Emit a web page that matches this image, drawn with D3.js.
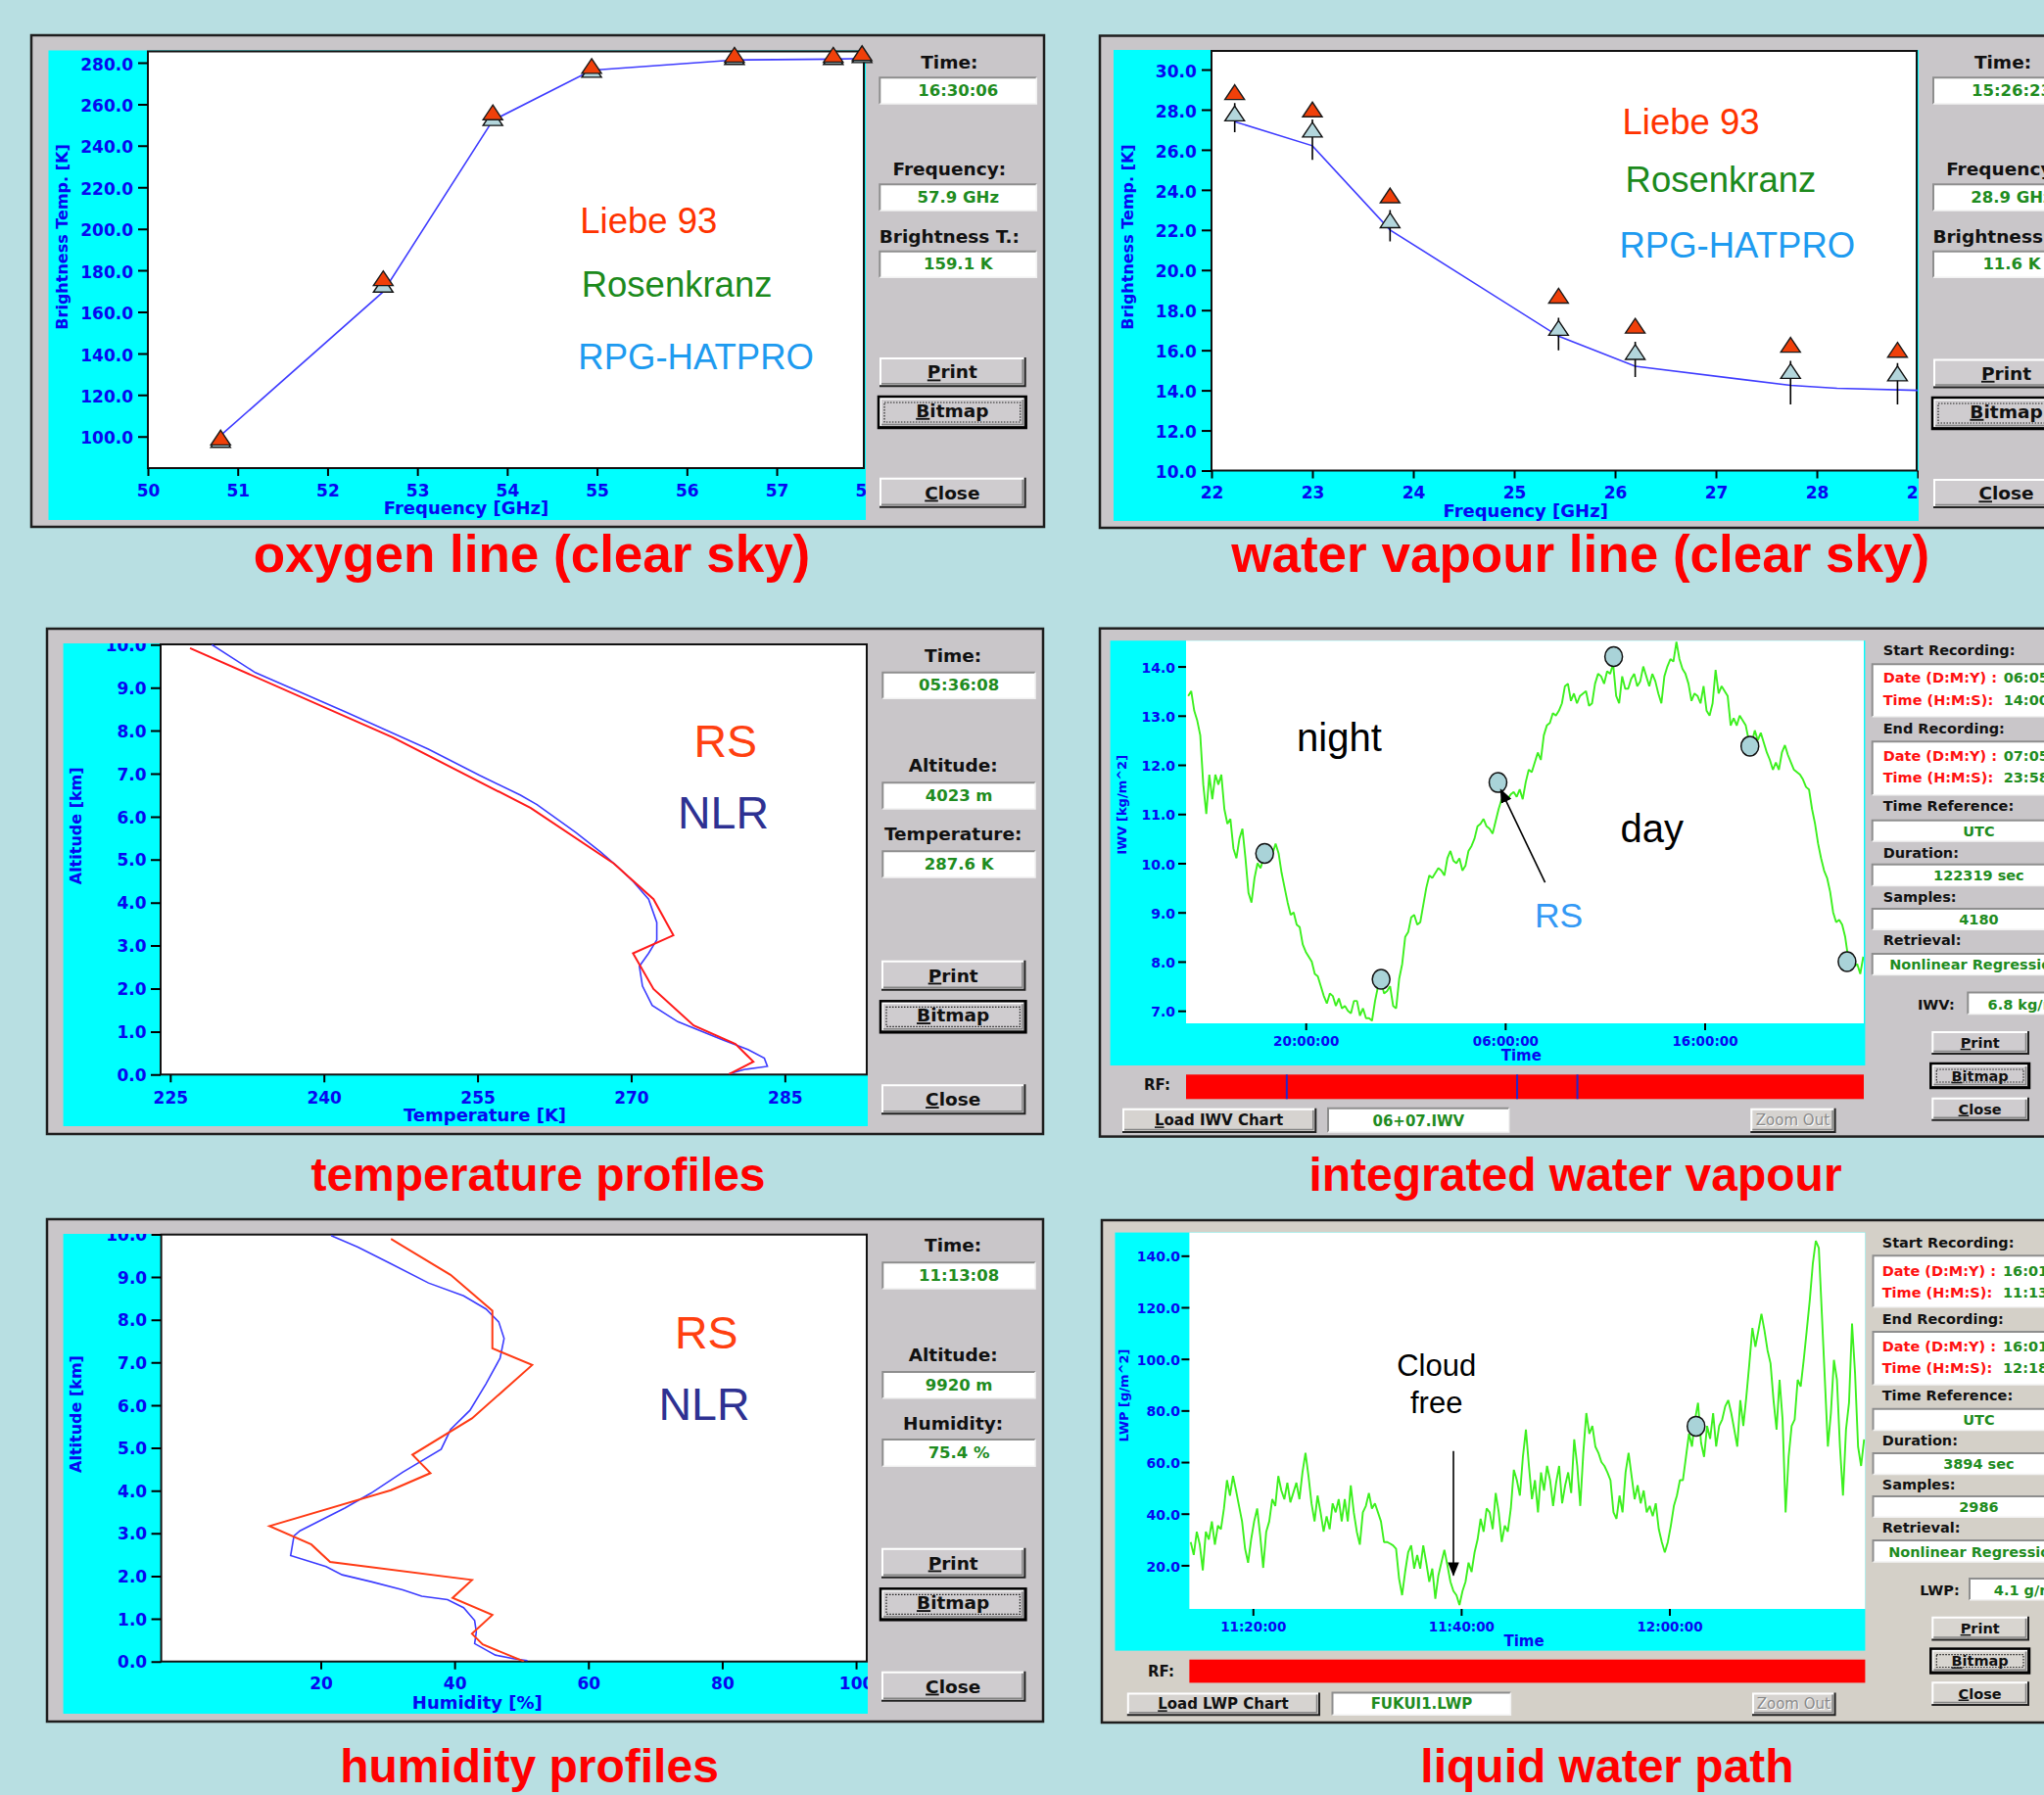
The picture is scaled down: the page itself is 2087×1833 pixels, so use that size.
<!DOCTYPE html>
<html>
<head>
<meta charset="utf-8">
<script src="https://cdn.jsdelivr.net/npm/d3@7"></script>
<style>
  body { margin: 0; background: #b8dfe2; }
  svg { display: block; }
</style>
</head>
<body>
<svg id="chart" width="2087" height="1833"></svg>
<script>
// ---------------- data ----------------

// oxygen line (clear sky), brightness temperature [K] vs frequency [GHz]
const o2Freq   = [50.81, 52.62, 53.84, 54.94, 56.53, 57.63, 57.95];
const o2Liebe  = [98.3, 175.0, 254.9, 277.2, 282.6, 282.6, 283.4];
const o2Rosen  = [97.2, 171.9, 252.1, 275.3, 281.5, 281.5, 282.4];
const o2Hatpro = [100.5, 169.7, 252.2, 276.3, 281.3, 281.7, 282.0];
const o2Readout = ['16:30:06', '57.9 GHz', '159.1 K'];

// water vapour line (clear sky)
const wvFreq     = [22.23, 23.0, 23.77, 25.44, 26.2, 27.74, 28.8];
const wvLiebe    = [28.75, 27.89, 23.6, 18.6, 17.1, 16.15, 15.9];
const wvRosen    = [27.69, 26.88, 22.36, 16.99, 15.79, 14.84, 14.72];
const wvStem     = [26.88, 25.5, 21.43, 16.0, 14.66, 13.3, 13.3];
const wvLineFreq = [22.23, 23.0, 23.77, 25.44, 26.2, 27.74, 28.2, 29.0];
const wvHatpro   = [27.4, 26.2, 22.0, 16.7, 15.2, 14.25, 14.1, 14.0];
const wvReadout  = ['15:26:23', '28.9 GHz', '11.6 K'];
const specLabels = ['Time:', 'Frequency:', 'Brightness T.:'];
const modelNames = ['Liebe 93', 'Rosenkranz', 'RPG-HATPRO'];

// temperature profiles, altitude [km]
const tAltRS = [0.01, 0.30, 0.71, 1.14, 1.99, 2.82, 3.24, 4.08, 4.91, 6.2, 7.84, 9.92];
const tRS    = [279.56, 281.93, 280.18, 276.1, 272.18, 270.18, 274.12, 272.18, 268.3, 260.2, 246.75, 226.93];
const tAltNLR = [0.02, 0.12, 0.19, 0.38, 0.58, 0.81, 1.23, 1.61, 2.06, 2.52, 2.82, 3.13, 3.54,
                 4.08, 4.49, 4.83, 5.18, 5.63, 6.28, 6.5, 6.96, 7.57, 8.44, 9.35, 10.0];
const tNLR    = [279.56, 281.1, 283.3, 283.0, 281.4, 278.9, 274.55, 272.05, 271.1, 270.8, 271.7, 272.5, 272.5,
                 271.7, 270.2, 268.7, 267.0, 264.6, 260.8, 259.2, 255.2, 250.2, 242.06, 233.3, 229.06];
const tReadout = ['05:36:08', '4023 m', '287.6 K'];

// humidity profiles
const hAltRS = [0, 0.40, 0.65, 1.09, 1.49, 1.91, 2.33, 2.74, 3.17, 4.01, 4.41, 4.84, 5.69, 6.94, 7.33, 8.21, 9.05, 9.89];
const hRS    = [50.4, 44.2, 42.6, 45.65, 39.7, 42.6, 21.4, 18.6, 12.35, 30.5, 36.4, 33.7, 42.6, 51.6, 45.65, 45.65, 39.4, 30.5];
const hAltNLR = [0.02, 0.06, 0.15, 0.27, 0.42, 0.69, 0.96, 1.26, 1.45, 1.53, 1.68, 1.87, 2.03, 2.22, 2.48, 2.94, 3.06,
                 3.59, 3.94, 4.43, 4.97, 5.43, 5.88, 6.5, 7.1, 7.56, 7.95, 8.25, 8.56, 8.86, 9.32, 9.7, 9.97];
const hNLR    = [50.9, 49.0, 46.1, 44.7, 43.0, 43.25, 43.0, 41.35, 38.95, 35.1, 32.25, 27.5, 23.2, 20.8, 15.5, 16.0, 16.9,
                 23.6, 27.5, 32.25, 38.0, 39.4, 42.3, 44.7, 46.8, 47.4, 46.6, 44.7, 41.35, 36.1, 30.35, 25.55, 21.55];
const hReadout = ['11:13:08', '9920 m', '75.4 %'];

// integrated water vapour [kg/m^2], samples every 0.1511 h from 0.108 h after 14:00 (06.05)
const iwvStart = 0.108, iwvStep = 0.1511;
const iwvValues = [
  13.4, 13.5, 13.1, 12.9, 12.6, 11.6, 11.0, 11.8, 11.3, 11.8,
  11.6, 11.8, 11.1, 10.8, 10.9, 10.3, 10.1, 10.5, 10.7, 10.1,
  9.4, 9.2, 9.7, 10.0, 9.9, 10.1, 10.2, 10.1, 10.2, 10.4,
  10.2, 9.8, 9.5, 9.2, 8.95, 9.0, 8.75, 8.7, 8.35, 8.2,
  8.1, 8.0, 7.75, 7.7, 7.5, 7.3, 7.15, 7.35, 7.3, 7.1,
  7.25, 7.05, 7.1, 7.0, 6.95, 7.2, 7.2, 6.9, 7.05, 6.85,
  6.85, 6.8, 7.2, 7.5, 7.6, 7.35, 7.4, 7.5, 7.1, 7.05,
  7.65, 7.95, 8.5, 8.6, 8.9, 8.95, 8.75, 8.8, 9.15, 9.5,
  9.75, 9.7, 9.8, 9.9, 9.85, 9.75, 10.1, 10.25, 10.05, 10.0,
  10.1, 9.85, 9.95, 10.25, 10.35, 10.5, 10.75, 10.8, 10.9, 10.75,
  10.7, 10.6, 10.85, 11.1, 11.3, 11.35, 11.3, 11.4, 11.45, 11.35,
  11.5, 11.3, 11.65, 11.9, 11.85, 12.05, 12.25, 12.1, 12.6, 12.8,
  12.85, 13.05, 13.0, 13.1, 13.25, 13.6, 13.65, 13.3, 13.45, 13.25,
  13.4, 13.45, 13.5, 13.2, 13.25, 13.65, 13.85, 13.8, 13.65, 13.9,
  13.85, 14.05, 13.4, 13.25, 13.8, 13.55, 13.55, 13.75, 13.85, 13.6,
  13.7, 14.0, 13.8, 13.6, 13.85, 13.7, 13.45, 13.25, 13.8, 14.0,
  14.15, 14.1, 14.5, 14.15, 13.95, 13.85, 13.65, 13.3, 13.45, 13.4,
  13.25, 13.6, 13.1, 13.0, 13.25, 13.93, 13.45, 13.6, 13.5, 13.4,
  12.8, 12.95, 12.8, 13.0, 12.9, 12.8, 12.5, 12.45, 12.7, 12.5,
  12.65, 12.45, 12.25, 12.1, 11.9, 12.05, 11.9, 12.25, 12.4, 12.2,
  12.05, 11.9, 11.85, 11.8, 11.7, 11.55, 11.5, 11.1, 10.8, 10.4,
  10.1, 9.85, 9.7, 9.42, 9.0, 8.8, 8.85, 8.75, 8.5, 8.07,
  8.0, 7.9, 7.95, 7.75, 8.1
];
const iwvRsHours  = [3.94, 9.78, 15.64, 21.44, 28.27, 33.14];
const iwvRsValues = [10.2, 7.64, 11.64, 14.2, 12.38, 8.0];
const iwvRfMarks  = [5.05, 16.6, 19.62];
const iwvTicks    = [6, 16, 26];
const iwvTickText = ['20:00:00', '06:00:00', '16:00:00'];

// liquid water path [g/m^2], samples every 0.29 min from 11:14:02
const lwpStart = 14.03, lwpStep = 0.29;
const lwpValues = [
  29, 24, 33, 28, 18, 33, 30, 37, 28, 35.4,
  34, 42, 53, 47, 54.6, 49, 43, 37, 26.4, 21,
  30, 37, 42, 31.5, 19, 33, 37, 45.6, 43, 54.6,
  49, 45.6, 52, 44.4, 48.2, 52, 45.6, 56, 63.6, 54.6,
  44, 37, 47, 40.5, 33, 39, 34, 44, 40.5, 45.6,
  37, 45.6, 37, 51, 40.5, 33, 28, 40.5, 43, 48,
  42, 44, 40.5, 37, 29, 29, 28.4, 27.7, 26.4, 14.8,
  8.4, 17.4, 25, 27.7, 18.7, 24, 18.7, 27.7, 21, 13.6,
  18.7, 7, 16, 21, 26, 20, 13.6, 10, 8.4, 4.6,
  10, 13.6, 21, 17.4, 25, 30, 38, 33, 42, 40.5,
  34, 48, 40.5, 29, 35.4, 33, 42, 57, 53, 47,
  62, 72.6, 58.5, 45.6, 53, 40.5, 56, 49, 58.5, 53,
  43, 52, 58.5, 44, 51, 56, 48, 68.8, 58.5, 43,
  63.6, 79, 71, 74, 66, 63.6, 60, 58.5, 56, 53,
  40.5, 38, 47, 40.5, 56, 63.6, 54.6, 45.6, 51, 44,
  49, 40.5, 43, 39, 44, 34, 29, 25, 29, 35.4,
  43, 47, 53, 53, 62, 71, 66, 76.5, 83, 67.5,
  62, 74, 69, 79, 66, 74, 76.5, 81.6, 84, 79,
  72.6, 66, 84, 74, 85.4, 98.3, 112, 104.7, 111, 117.5,
  111, 103.4, 98.3, 84, 72.6, 91.9, 76.5, 40.5, 62, 74,
  76.5, 91.9, 89.3, 99.6, 111, 122.7, 136.8, 145.8, 143, 117.5,
  91.9, 66, 79, 99.6, 91.9, 66, 47, 72.6, 83, 113.7,
  94.4, 66, 58.5, 68.8
];
const lwpRsMinutes = [62.56];
const lwpRsValues  = [73.9];
const lwpTicks     = [20, 40, 60];
const lwpTickText  = ['11:20:00', '11:40:00', '12:00:00'];

const titles = ['oxygen line (clear sky)', 'water vapour line (clear sky)', 'temperature profiles',
                'integrated water vapour', 'humidity profiles', 'liquid water path'];

// ---------------- drawing helpers ----------------
const svg = d3.select('#chart');
const UI = "'DejaVu Sans', Verdana, sans-serif";
const ARIAL = "'Liberation Sans', Arial, Helvetica, sans-serif";
const AXIS_BLUE = '#0808f0';
const VAL_GREEN = '#1f8c1f';
let clipN = 0;

function clip(x0, y0, x1, y1) {
  const id = 'clip' + (clipN++);
  svg.append('clipPath').attr('id', id).append('rect')
    .attr('x', x0).attr('y', y0).attr('width', x1 - x0).attr('height', y1 - y0);
  return `url(#${id})`;
}

function box(x0, y0, x1, y1, fill, parent = svg) {
  return parent.append('rect').attr('x', x0).attr('y', y0)
    .attr('width', x1 - x0).attr('height', y1 - y0).attr('fill', fill);
}

function text(x, y, str, size, opt = {}) {
  return (opt.parent || svg).append('text').attr('x', x).attr('y', y).text(str)
    .attr('font-family', opt.font || UI).attr('font-size', size)
    .attr('font-weight', opt.weight || 'bold')
    .attr('fill', opt.color || '#111')
    .attr('text-anchor', opt.anchor || 'start');
}

function windowFrame(x0, y0, x1, y1, face) {
  box(x0, y0, x1, y1, face).attr('stroke', '#1e1e1e').attr('stroke-width', 2.5);
}

function field(x0, y0, x1, y1) {
  box(x0, y0, x1, y1, '#fff');
  svg.append('path').attr('d', `M${x0},${y1} V${y0} H${x1}`)
    .attr('fill', 'none').attr('stroke', '#8e8e8e').attr('stroke-width', 2);
  svg.append('path').attr('d', `M${x0},${y1} H${x1} V${y0}`)
    .attr('fill', 'none').attr('stroke', '#f2f2f2').attr('stroke-width', 1.5);
}

function button(x0, y0, x1, y1, label, size, opt = {}) {
  const g = svg.append('g');
  box(x0, y0, x1, y1, opt.face || '#cfcccf', g);
  g.append('path').attr('d', `M${x0 + 1},${y1 - 1} V${y0 + 1} H${x1 - 1}`)
    .attr('fill', 'none').attr('stroke', '#fff').attr('stroke-width', 2);
  g.append('path').attr('d', `M${x0 + 2},${y1 - 2.5} H${x1 - 2.5} V${y0 + 2}`)
    .attr('fill', 'none').attr('stroke', '#858585').attr('stroke-width', 1.5);
  g.append('path').attr('d', `M${x0},${y1} H${x1} V${y0}`)
    .attr('fill', 'none').attr('stroke', '#222').attr('stroke-width', 2);
  const cx = (x0 + x1) / 2, by = (y0 + y1) / 2 + size * 0.37 - (opt.lift || 0);
  if (opt.disabled) {
    text(cx + 1, by + 1, label, size, { parent: g, anchor: 'middle', color: '#fff', weight: 'normal' });
    text(cx, by, label, size, { parent: g, anchor: 'middle', color: '#8a8a8a', weight: 'normal' });
    return;
  }
  const t = g.append('text').attr('x', cx).attr('y', by).attr('text-anchor', 'middle')
    .attr('font-family', UI).attr('font-size', size).attr('font-weight', 'bold').attr('fill', '#111');
  t.append('tspan').attr('text-decoration', 'underline').text(label[0]);
  t.append('tspan').text(label.slice(1));
  if (opt.focus) {
    g.append('rect').attr('x', x0 - 1).attr('y', y0 - 1).attr('width', x1 - x0 + 2).attr('height', y1 - y0 + 2)
      .attr('fill', 'none').attr('stroke', '#000').attr('stroke-width', 2.5);
    g.append('rect').attr('x', x0 + 5).attr('y', y0 + 5).attr('width', x1 - x0 - 10).attr('height', y1 - y0 - 10)
      .attr('fill', 'none').attr('stroke', '#222').attr('stroke-width', 1.2).attr('stroke-dasharray', '1.5,1.5');
  }
}

function styleAxis(g, size) {
  g.select('.domain').remove();
  g.selectAll('line').attr('stroke', '#000').attr('stroke-width', 2);
  g.selectAll('text').attr('fill', AXIS_BLUE).attr('font-family', UI)
    .attr('font-weight', 'bold').attr('font-size', size);
}

function yTitle(cx, cy, str, size) {
  const bx = cx + size * 0.36;
  text(bx, cy, str, size, { anchor: 'middle', color: AXIS_BLUE })
    .attr('transform', `rotate(-90,${bx},${cy})`);
}

// triangle marker, size = width
const triangle = {
  draw(ctx, w) {
    const h = w * 0.75;
    ctx.moveTo(0, -h * 2 / 3);
    ctx.lineTo(w / 2, h / 3);
    ctx.lineTo(-w / 2, h / 3);
    ctx.closePath();
  }
};

// ---------------- spectrum windows ----------------
function spectrumPanel(p) {
  windowFrame(...p.frame, '#c9c6c9');
  box(...p.cyan, '#00ffff');
  const [px0, py0, px1, py1] = p.plot;
  const x = d3.scaleLinear().domain(p.xDomain).range([px0, px1]);
  const y = d3.scaleLinear().domain(p.yDomain).range([py1, py0]);
  box(px0, py0, px1, py1, '#fff').attr('stroke', '#111').attr('stroke-width', 2);

  const layer = svg.append('g').attr('clip-path', clip(...p.cyan));
  const ya = layer.append('g').attr('transform', `translate(${px0},0)`)
    .call(d3.axisLeft(y).tickValues(p.yTicks).tickFormat(d3.format('.1f')).tickSize(10));
  styleAxis(ya, 17);
  ya.selectAll('text').attr('x', -p.yLabelGap).attr('dy', '0.42em');
  const xa = layer.append('g').attr('transform', `translate(0,${py1})`)
    .call(d3.axisBottom(x).tickValues(p.xTicks).tickFormat(d3.format('d')).tickSize(8));
  styleAxis(xa, 17);
  xa.selectAll('text').attr('y', p.xLabelGap).attr('dy', null);
  text(p.xTitle[0], p.xTitle[1], 'Frequency [GHz]', 18, { anchor: 'middle', color: AXIS_BLUE });
  yTitle(p.yTitle[0], p.yTitle[1], 'Brightness Temp. [K]', 16);

  const plot = svg.append('g').attr('clip-path', clip(px0 - 12, py0 - 14, px1 + 12, py1));
  plot.append('path')
    .attr('d', d3.line().x((d, i) => x(p.lineFreq[i])).y(d => y(d))(p.hatpro))
    .attr('fill', 'none').attr('stroke', '#3f3cff').attr('stroke-width', 1.6);
  if (p.stem) {
    plot.selectAll(null).data(p.stem).join('line')
      .attr('x1', (d, i) => x(p.freq[i])).attr('x2', (d, i) => x(p.freq[i]))
      .attr('y1', (d, i) => y(p.rosen[i]) - 13).attr('y2', d => y(d))
      .attr('stroke', '#000').attr('stroke-width', 1.6);
  }
  const sym = d3.symbol().type(triangle).size(20);
  plot.selectAll(null).data(p.rosen).join('path')
    .attr('transform', (d, i) => `translate(${x(p.freq[i])},${y(d)})`)
    .attr('d', sym).attr('fill', '#b3d6dc').attr('stroke', '#111').attr('stroke-width', 1.4);
  plot.selectAll(null).data(p.liebe).join('path')
    .attr('transform', (d, i) => `translate(${x(p.freq[i])},${y(d)})`)
    .attr('d', sym).attr('fill', '#f0400a').attr('stroke', '#1a1a1a').attr('stroke-width', 1.4);

  const colors = ['#ff3300', '#1c8a1c', '#1e9bf0'];
  modelNames.forEach((name, i) => {
    text(p.legend[i][0], p.legend[i][1], name, 36.5, { font: ARIAL, weight: 'normal', color: colors[i] });
  });

  // readout column
  const [bx0, bx1] = p.boxX;
  const bc = (bx0 + bx1) / 2;
  specLabels.forEach((lab, i) => {
    text(bc - 9, p.rows[i][0], lab, 18.5, { anchor: 'middle' });
    field(bx0, p.rows[i][1], bx1, p.rows[i][2]);
    text(bc, p.rows[i][2] - 8.5, p.readout[i], 16.5, { anchor: 'middle', color: VAL_GREEN });
  });
  button(p.btnX[0], p.btns[0][0], p.btnX[1], p.btns[0][1], 'Print', 18.5);
  button(p.btnX[0], p.btns[1][0], p.btnX[1], p.btns[1][1], 'Bitmap', 18.5, { focus: true, lift: 2 });
  button(p.btnX[0], p.btns[2][0], p.btnX[1], p.btns[2][1], 'Close', 18.5);
}

spectrumPanel({
  frame: [32, 36, 1066, 538], cyan: [49.5, 51.5, 884, 531], plot: [151, 52.5, 882, 478],
  xDomain: [50, 57.97], yDomain: [84.8, 285.4],
  xTicks: d3.range(50, 59), yTicks: d3.range(100, 281, 20),
  yLabelGap: 15, xLabelGap: 28.7, xTitle: [476, 525], yTitle: [63, 242],
  freq: o2Freq, liebe: o2Liebe, rosen: o2Rosen, lineFreq: o2Freq, hatpro: o2Hatpro,
  legend: [[592.3, 237.7], [593.7, 302.7], [590.3, 376.7]],
  readout: o2Readout, boxX: [898.3, 1058.3],
  rows: [[70, 79.3, 106], [179.3, 188.3, 215], [247.7, 256.7, 283.3]],
  btnX: [898, 1046.7], btns: [[365, 394.3], [406, 436], [487.7, 517.7]]
});

spectrumPanel({
  frame: [1123, 36.5, 2120, 539], cyan: [1137, 51, 1959, 532], plot: [1237, 52, 1957, 480.5],
  xDomain: [22, 28.99], yDomain: [10, 30.93],
  xTicks: d3.range(22, 30), yTicks: d3.range(10, 30.1, 2),
  yLabelGap: 15.2, xLabelGap: 28.3, xTitle: [1557.7, 527.7], yTitle: [1150.8, 242],
  freq: wvFreq, liebe: wvLiebe, rosen: wvRosen, stem: wvStem, lineFreq: wvLineFreq, hatpro: wvHatpro,
  legend: [[1656.5, 136.7], [1659.6, 195.7], [1653.5, 263.3]],
  readout: wvReadout, boxX: [1974, 2134],
  rows: [[70, 79.3, 106], [179.3, 188.3, 215], [247.7, 256.7, 283.3]],
  btnX: [1974, 2123], btns: [[366.5, 395.5], [407, 437], [489, 518]]
});

// ---------------- profile windows ----------------
function profilePanel(p) {
  windowFrame(...p.frame, '#c9c6c9');
  box(...p.cyan, '#00ffff');
  const [px0, py0, px1, py1] = p.plot;
  const x = d3.scaleLinear().domain(p.xDomain).range([px0, px1]);
  const y = d3.scaleLinear().domain([0, 10]).range([py1, p.yTop]);
  box(px0, py0, px1, py1, '#fff').attr('stroke', '#111').attr('stroke-width', 2);

  const layer = svg.append('g').attr('clip-path', clip(...p.cyan));
  const ya = layer.append('g').attr('transform', `translate(${px0},0)`)
    .call(d3.axisLeft(y).tickValues(d3.range(0, 10.1, 1)).tickFormat(d3.format('.1f')).tickSize(10));
  styleAxis(ya, 17);
  ya.selectAll('text').attr('x', -14.4).attr('dy', '0.36em');
  const xa = layer.append('g').attr('transform', `translate(0,${py1})`)
    .call(d3.axisBottom(x).tickValues(p.xTicks).tickFormat(d3.format('d')).tickSize(8));
  styleAxis(xa, 17);
  xa.selectAll('text').attr('y', p.xLabelGap).attr('dy', null);
  text(p.xTitle[0], p.xTitle[1], p.xName, 18, { anchor: 'middle', color: AXIS_BLUE });
  yTitle(p.yTitle[0], p.yTitle[1], 'Altitude [km]', 16);

  const plot = svg.append('g').attr('clip-path', clip(px0, py0, px1, py1));
  plot.append('path')
    .attr('d', d3.line().x(d => x(d)).y((d, i) => y(p.altNLR[i]))(p.nlr))
    .attr('fill', 'none').attr('stroke', '#3c3cff').attr('stroke-width', 1.6);
  plot.append('path')
    .attr('d', d3.line().x(d => x(d)).y((d, i) => y(p.altRS[i]))(p.rs))
    .attr('fill', 'none').attr('stroke', p.rsColor).attr('stroke-width', 2);

  text(p.legend[0][0], p.legend[0][1], 'RS', 46.5, { font: ARIAL, weight: 'normal', color: '#ff4010' });
  text(p.legend[1][0], p.legend[1][1], 'NLR', 46.5, { font: ARIAL, weight: 'normal', color: '#2e3192' });

  const [bx0, bx1] = p.boxX;
  const bc = (bx0 + bx1) / 2;
  p.labels.forEach((lab, i) => {
    text(bc - 6, p.rows[i][0], lab, 18.5, { anchor: 'middle' });
    field(bx0, p.rows[i][1], bx1, p.rows[i][2]);
    text(bc, p.rows[i][2] - 8, p.readout[i], 16.5, { anchor: 'middle', color: VAL_GREEN });
  });
  button(900, p.btns[0][0], 1046.4, p.btns[0][1], 'Print', 18.5);
  button(900, p.btns[1][0], 1046.4, p.btns[1][1], 'Bitmap', 18.5, { focus: true, lift: 2 });
  button(900, p.btns[2][0], 1046.4, p.btns[2][1], 'Close', 18.5);
}

profilePanel({
  frame: [48, 642, 1065, 1158], cyan: [64.6, 657, 886, 1150], plot: [164, 658, 885, 1097.3], yTop: 658.3,
  xDomain: [224.06, 293], xTicks: [225, 240, 255, 270, 285], xLabelGap: 29.4,
  xName: 'Temperature [K]', xTitle: [495, 1145], yTitle: [77.7, 843.3],
  altRS: tAltRS, rs: tRS, altNLR: tAltNLR, nlr: tNLR, rsColor: '#ff1a1a',
  legend: [[708.5, 772.7], [692, 846]],
  labels: ['Time:', 'Altitude:', 'Temperature:'], readout: tReadout, boxX: [901.3, 1057],
  rows: [[676, 686.7, 713.3], [788.3, 799.3, 826], [858.3, 869.3, 896]],
  btns: [[980.7, 1010.7], [1023.3, 1053.3], [1107.3, 1137.3]]
});

profilePanel({
  frame: [48, 1245, 1065, 1758], cyan: [64.6, 1260, 886, 1750], plot: [164.6, 1260.7, 885, 1696.7], yTop: 1260.4,
  xDomain: [-3.84, 101.6], xTicks: [20, 40, 60, 80, 100], xLabelGap: 28.3,
  xName: 'Humidity [%]', xTitle: [487.3, 1745], yTitle: [77.7, 1444],
  altRS: hAltRS, rs: hRS, altNLR: hAltNLR, nlr: hNLR, rsColor: '#ff3a14',
  legend: [[689, 1377.3], [672.5, 1450]],
  labels: ['Time:', 'Altitude:', 'Humidity:'], readout: hReadout, boxX: [901.3, 1057],
  rows: [[1278.3, 1289.3, 1316], [1390, 1401, 1427.7], [1460, 1470, 1497.3]],
  btns: [[1580.7, 1610.7], [1623.3, 1653.3], [1706.7, 1736.7]]
});

// ---------------- time series windows ----------------
function timePanel(p) {
  windowFrame(...p.frame, p.face);
  box(...p.cyan, '#00ffff');
  const [px0, py0, px1, py1] = p.plot;
  box(px0, py0, px1, py1, '#fff');
  const x = d3.scaleLinear().domain(p.xDomain).range([px0, px1]);
  const y = d3.scaleLinear().domain(p.yDomain).range([py1, py0]);

  const ya = svg.append('g').attr('transform', `translate(${px0},0)`)
    .call(d3.axisLeft(y).tickValues(p.yTicks).tickFormat(d3.format('.1f')).tickSize(8));
  styleAxis(ya, 14);
  ya.selectAll('text').attr('x', -p.yLabelGap).attr('dy', '0.4em');
  const xa = svg.append('g').attr('transform', `translate(0,${py1})`)
    .call(d3.axisBottom(x).tickValues(p.xTicks).tickFormat((d, i) => p.xTickText[i]).tickSize(7));
  styleAxis(xa, 13.5);
  xa.selectAll('text').attr('y', p.xLabelGap).attr('dy', null);
  text(p.timeTitle[0], p.timeTitle[1], 'Time', 15, { anchor: 'middle', color: AXIS_BLUE });
  yTitle(p.yTitle[0], p.yTitle[1], p.yName, 13);

  const plot = svg.append('g').attr('clip-path', clip(px0, py0 - 2, px1, py1 + 4));
  plot.append('path')
    .attr('d', d3.line().x((d, i) => x(p.t0 + i * p.dt)).y(d => y(d))(p.values))
    .attr('fill', 'none').attr('stroke', '#3cf01e').attr('stroke-width', 1.9)
    .attr('stroke-linejoin', 'bevel');
  plot.selectAll(null).data(p.rsValues).join('ellipse')
    .attr('cx', (d, i) => x(p.rsTimes[i])).attr('cy', d => y(d))
    .attr('rx', 9).attr('ry', 10)
    .attr('fill', '#a9d3d8').attr('stroke', '#111').attr('stroke-width', 1.5);

  // RF strip
  text(p.rfLabel[0], p.rfLabel[1], 'RF:', 15, { anchor: 'end' });
  box(px0, p.rf[0], px1, p.rf[1], '#ff0000');
  svg.selectAll(null).data(p.rfMarks).join('line')
    .attr('x1', d => x(d)).attr('x2', d => x(d)).attr('y1', p.rf[0]).attr('y2', p.rf[1])
    .attr('stroke', '#2626c8').attr('stroke-width', 2);

  // bottom row
  const [by0, by1] = p.bottomY;
  button(p.loadX[0], by0, p.loadX[1], by1, p.loadText, 15, { face: '#d6d3d0' });
  field(p.fileX[0], by0, p.fileX[1], by1);
  text((p.fileX[0] + p.fileX[1]) / 2, by1 - 6.5, p.fileName, 15, { anchor: 'middle', color: VAL_GREEN });
  button(p.zoomX[0], by0, p.zoomX[1], by1, 'Zoom Out', 15, { disabled: true, face: '#d6d3d0' });

  // info column
  const lx = p.infoX, fx = p.fieldX, fx1 = 2120, fc = 2020.4;
  const r = p.info;
  text(lx, r.start, 'Start Recording:', 14.5);
  field(fx, r.startBox[0], fx1, r.startBox[1]);
  text(lx, r.startDate, 'Date (D:M:Y) :', 14.5, { color: '#ff1010' });
  text(lx, r.startTime, 'Time (H:M:S):', 14.5, { color: '#ff1010' });
  text(p.valX, r.startDate, p.startVals[0], 14.5, { color: VAL_GREEN });
  text(p.valX, r.startTime, p.startVals[1], 14.5, { color: VAL_GREEN });
  text(lx, r.end, 'End Recording:', 14.5);
  field(fx, r.endBox[0], fx1, r.endBox[1]);
  text(lx, r.endDate, 'Date (D:M:Y) :', 14.5, { color: '#ff1010' });
  text(lx, r.endTime, 'Time (H:M:S):', 14.5, { color: '#ff1010' });
  text(p.valX, r.endDate, p.endVals[0], 14.5, { color: VAL_GREEN });
  text(p.valX, r.endTime, p.endVals[1], 14.5, { color: VAL_GREEN });
  const simple = [['Time Reference:', 'UTC'], ['Duration:', p.duration], ['Samples:', p.samples]];
  simple.forEach((s, i) => {
    text(lx, r.simple[i][0], s[0], 14.5);
    field(fx, r.simple[i][1], fx1, r.simple[i][2]);
    text(fc, r.simple[i][2] - 5.5, s[1], 14.5, { anchor: 'middle', color: VAL_GREEN });
  });
  text(lx, r.retrieval[0], 'Retrieval:', 14.5);
  field(fx, r.retrieval[1], fx1, r.retrieval[2]);
  text(lx + 6.5, r.retrieval[2] - 5.5, 'Nonlinear Regression', 14.5, { color: VAL_GREEN });
  text(p.qty.labelRight, p.qty.y, p.qty.label, 14.5, { anchor: 'end' });
  field(p.qty.boxX, p.qty.box[0], fx1, p.qty.box[1]);
  text(p.qty.valX, p.qty.y, p.qty.value, 14.5, { color: VAL_GREEN });
  button(1972.3, p.btns[0][0], 2071, p.btns[0][1], 'Print', 14.5, { face: p.btnFace });
  button(1972.3, p.btns[1][0], 2071, p.btns[1][1], 'Bitmap', 14.5, { focus: true, face: p.btnFace });
  button(1972.3, p.btns[2][0], 2071, p.btns[2][1], 'Close', 14.5, { face: p.btnFace });
  return { x, y };
}

const iwv = timePanel({
  frame: [1123, 641.7, 2120, 1160.6], face: '#c9c6c9', btnFace: '#cfcccf',
  cyan: [1133.6, 654.2, 1904.4, 1088], plot: [1211, 654.2, 1903, 1045],
  xDomain: [0, 33.98], yDomain: [6.745, 14.525], yTicks: d3.range(7, 14.1, 1),
  xTicks: iwvTicks, xTickText: iwvTickText, yLabelGap: 11, xLabelGap: 22.7,
  timeTitle: [1553.3, 1082.7], yTitle: [1145.7, 821.8], yName: 'IWV [kg/m^2]',
  values: iwvValues, t0: iwvStart, dt: iwvStep, rsTimes: iwvRsHours, rsValues: iwvRsValues,
  rfLabel: [1195, 1113.3], rf: [1097.3, 1122.3], rfMarks: iwvRfMarks,
  bottomY: [1131.7, 1156], loadX: [1146, 1343.3], loadText: 'Load IWV Chart',
  fileX: [1356, 1540.7], fileName: '06+07.IWV', zoomX: [1787.3, 1873.6],
  infoX: 1922.7, fieldX: 1911.7, valX: 2045.7,
  startVals: ['06:05', '14:00'], endVals: ['07:05', '23:58'], duration: '122319 sec', samples: '4180',
  info: {
    start: 669.3, startBox: [678.3, 731.7], startDate: 696.7, startTime: 720,
    end: 749.3, endBox: [757.3, 811.7], endDate: 776.7, endTime: 799.3,
    simple: [[828.3, 837.8, 859], [875.6, 882.7, 904.4], [920.6, 928, 949.3]],
    retrieval: [965.2, 974, 995.6]
  },
  qty: { label: 'IWV:', labelRight: 1995.7, y: 1030.5, boxX: 2009.3, box: [1013.6, 1035.5], valX: 2029.6, value: '6.8 kg/m^2' },
  btns: [[1053, 1076], [1087, 1110], [1120.7, 1143.7]]
});

// annotations in the IWV chart
text(iwv.x(5.55), iwv.y(12.28), 'night', 40, { font: ARIAL, weight: 'normal', color: '#000' });
text(iwv.x(21.78), iwv.y(10.43), 'day', 40, { font: ARIAL, weight: 'normal', color: '#000' });
text(iwv.x(17.48), iwv.y(8.7), 'RS', 35.5, { font: ARIAL, weight: 'normal', color: '#3399f5' });
svg.append('defs').append('marker').attr('id', 'head').attr('viewBox', '0 0 10 10')
  .attr('refX', 9).attr('refY', 5).attr('markerWidth', 9).attr('markerHeight', 9)
  .attr('orient', 'auto-start-reverse')
  .append('path').attr('d', 'M0,1 L10,5 L0,9 Z').attr('fill', '#000');
svg.append('line')
  .attr('x1', iwv.x(18.0)).attr('y1', iwv.y(9.61)).attr('x2', iwv.x(15.78)).attr('y2', iwv.y(11.49))
  .attr('stroke', '#000').attr('stroke-width', 1.6).attr('marker-end', 'url(#head)');

const lwp = timePanel({
  frame: [1125, 1246, 2120, 1759], face: '#d4d0c8', btnFace: '#d8d5d0',
  cyan: [1138.5, 1258.6, 1904.4, 1685.6], plot: [1214.4, 1258.6, 1904.4, 1643],
  xDomain: [13.9, 78.8], yDomain: [3.07, 149], yTicks: d3.range(20, 141, 20),
  xTicks: lwpTicks, xTickText: lwpTickText, yLabelGap: 9.4, xLabelGap: 23,
  timeTitle: [1556, 1681.2], yTitle: [1147.7, 1425], yName: 'LWP [g/m^2]',
  values: lwpValues, t0: lwpStart, dt: lwpStep, rsTimes: lwpRsMinutes, rsValues: lwpRsValues,
  rfLabel: [1199, 1711.6], rf: [1694.7, 1718.4], rfMarks: [],
  bottomY: [1728.5, 1751.2], loadX: [1150.8, 1347], loadText: 'Load LWP Chart',
  fileX: [1360.5, 1542.4], fileName: 'FUKUI1.LWP', zoomX: [1789, 1873.6],
  infoX: 1921.7, fieldX: 1912.5, valX: 2045,
  startVals: ['16:01', '11:13'], endVals: ['16:01', '12:18'], duration: '3894 sec', samples: '2986',
  info: {
    start: 1273.8, startBox: [1282.3, 1334.7], startDate: 1302.5, startTime: 1324.5,
    end: 1352.2, endBox: [1360, 1414], endDate: 1380.3, endTime: 1402.3,
    simple: [[1430.3, 1438.8, 1460.4], [1475.6, 1484, 1505.4], [1520.6, 1528, 1549.3]],
    retrieval: [1564.5, 1573, 1595]
  },
  qty: { label: 'LWP:', labelRight: 2000.7, y: 1628.8, boxX: 2011, box: [1611.9, 1633.8], valX: 2035.8, value: '4.1 g/m^2' },
  btns: [[1650.8, 1674.4], [1684.6, 1707.5], [1717.3, 1741]]
});

// "Cloud free" annotation
text(lwp.x(37.63), lwp.y(93.5), 'Cloud', 31, { font: ARIAL, weight: 'normal', color: '#000', anchor: 'middle' });
text(lwp.x(37.63), lwp.y(78.9), 'free', 31, { font: ARIAL, weight: 'normal', color: '#000', anchor: 'middle' });
svg.append('line')
  .attr('x1', lwp.x(39.26)).attr('y1', lwp.y(64.3)).attr('x2', lwp.x(39.26)).attr('y2', lwp.y(16.2))
  .attr('stroke', '#000').attr('stroke-width', 1.6).attr('marker-end', 'url(#head)');

// ---------------- slide captions ----------------
const captionPos = [[543, 584, 53], [1613.7, 584, 53], [549.5, 1216, 48],
                    [1608.5, 1216, 48], [540.5, 1820, 48], [1641, 1820, 48]];
titles.forEach((t, i) => {
  text(captionPos[i][0], captionPos[i][1], t, captionPos[i][2],
       { font: ARIAL, color: '#ff0000', anchor: 'middle' });
});
</script>
</body>
</html>
